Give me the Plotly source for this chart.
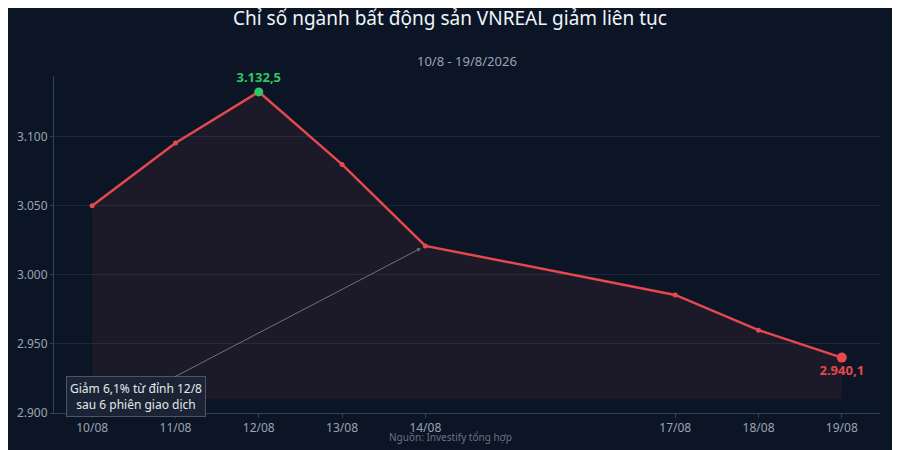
import plotly.graph_objects as go

dates = ["2026-08-10", "2026-08-11", "2026-08-12", "2026-08-13", "2026-08-14",
         "2026-08-17", "2026-08-18", "2026-08-19"]
tick_labels = ["10/08", "11/08", "12/08", "13/08", "14/08", "17/08", "18/08", "19/08"]
vnreal = [3050.0, 3095.5, 3132.5, 3080.0, 3021.0, 2985.5, 2960.0, 2940.1]
fill_base = [2910] * len(dates)

y_ticks = [2900, 2950, 3000, 3050, 3100]
y_tick_labels = ["2.900", "2.950", "3.000", "3.050", "3.100"]

bg = "#0b1526"
red = "#e5484d"
green = "#2fc765"
font = "Noto Sans"

fig = go.Figure()

# invisible floor for the shaded area
fig.add_trace(go.Scatter(x=dates, y=fill_base, mode="lines",
                         line=dict(width=0), hoverinfo="skip", showlegend=False))

fig.add_trace(go.Scatter(x=dates, y=vnreal, mode="lines+markers",
                         line=dict(color=red, width=2.5),
                         marker=dict(size=5, color=red),
                         fill="tonexty", fillcolor="rgba(229,72,77,0.08)",
                         showlegend=False))

# peak and last point
fig.add_trace(go.Scatter(x=[dates[2]], y=[vnreal[2]], mode="markers+text",
                         marker=dict(size=9, color=green),
                         text=["3.132,5"], textposition="top center",
                         textfont=dict(color=green, size=13, family=font, weight="bold"),
                         cliponaxis=False, showlegend=False))
fig.add_trace(go.Scatter(x=[dates[-1]], y=[vnreal[-1]], mode="markers+text",
                         marker=dict(size=10, color=red),
                         text=["2.940,1"], textposition="bottom center",
                         textfont=dict(color=red, size=13, family=font, weight="bold"),
                         cliponaxis=False, showlegend=False))

fig.add_annotation(x=dates[4], y=vnreal[4], xref="x", yref="y",
                   text="Giảm 6,1% từ đỉnh 12/8<br>sau 6 phiên giao dịch",
                   showarrow=True, arrowhead=2, arrowsize=0.8, arrowwidth=1,
                   arrowcolor="#6b7280", standoff=5,
                   ax=-289, ay=151, axref="pixel", ayref="pixel",
                   font=dict(color="#e5e7eb", size=12, family=font),
                   bgcolor="#1a2434", bordercolor="#4b5563", borderwidth=1, borderpad=3)

# page has an 8px body margin, so margins are shifted to line up with the reference
fig.update_layout(
    width=900, height=450,
    paper_bgcolor=bg, plot_bgcolor=bg,
    margin=dict(l=46, r=28, t=68, b=45),
    font=dict(family=font, color="#9ca3af", size=12),
    title=dict(text="Chỉ số ngành bất động sản VNREAL giảm liên tục",
               x=442 / 900, xanchor="center", y=1 - 10 / 450, yanchor="middle",
               font=dict(size=19, color="#f1f5f9", family=font)),
    xaxis=dict(type="date", range=["2026-08-09 13:00", "2026-08-19 11:00"],
               tickvals=dates, ticktext=tick_labels, automargin=False,
               showgrid=False, zeroline=False,
               showline=True, linecolor="#334155", linewidth=1,
               ticks="outside", tickcolor="#334155", ticklen=4,
               tickfont=dict(size=12, color="#9ca3af")),
    yaxis=dict(range=[2900, 3144], tickvals=y_ticks, ticktext=y_tick_labels,
               automargin=False,
               showgrid=True, gridcolor="#1c2738", gridwidth=1, zeroline=False,
               showline=True, linecolor="#334155", linewidth=1,
               ticks="outside", tickcolor="#334155", ticklen=3,
               tickfont=dict(size=12, color="#9ca3af")),
)

# plot area: 826 x 337 px, starting at (46, 68) in figure coords
fig.add_annotation(text="10/8 - 19/8/2026", x=0.5, xref="paper",
                   y=(405 - 53) / 337, yref="paper", yanchor="middle",
                   showarrow=False, font=dict(size=13, color="#9ca3af", family=font))
fig.add_annotation(text="Nguồn: Investify tổng hợp", x=(442 - 46) / 826, xref="paper",
                   y=(405 - 429) / 337, yref="paper", yanchor="middle",
                   showarrow=False, font=dict(size=10, color="#6b7280", family=font))

fig.write_html("out.html")
